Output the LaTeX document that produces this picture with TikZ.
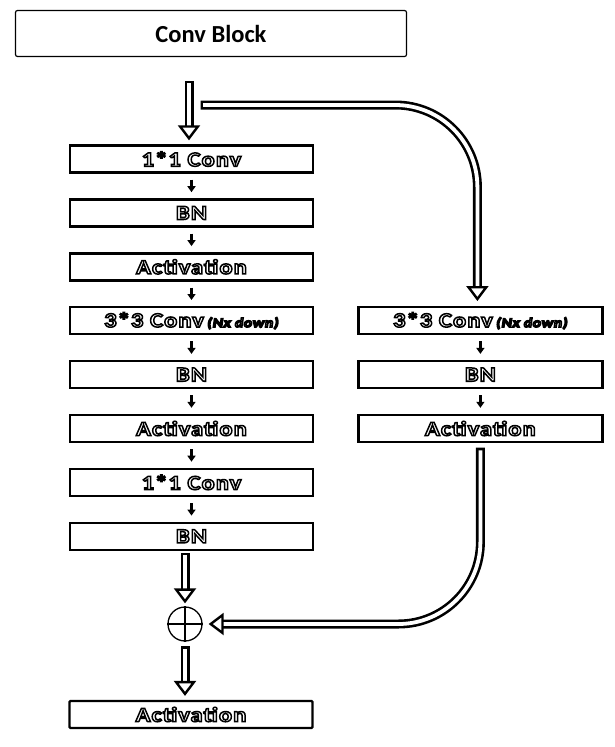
\documentclass[tikz,border=0pt]{standalone}
\usepackage{fontspec}
\setmainfont{Carlito}
\newfontfamily\boxfont[LetterSpace=5,FakeStretch=1.2]{Carlito}
\usetikzlibrary{arrows.meta,positioning,calc}
% outlined text: white fill, black stroke
\newcommand{\olt}[1]{\special{pdf:literal direct 2 Tr 1.5 w 1 g 0 G}#1\special{pdf:literal direct 0 Tr 0 g 0 G}}
\newcommand{\dn}{{\fontsize{13}{13}\selectfont\itshape\olt{(Nx down)}}}

\begin{document}
\begin{tikzpicture}[x=1pt,y=-1pt,node distance=24.5pt,
  blk/.style={draw,line width=2.4pt,minimum width=243pt,minimum height=27pt,
              inner sep=0pt,font=\boxfont\bfseries\fontsize{20.5}{20.5}\selectfont},
  title/.style={draw,line width=1.2pt,rounded corners=2pt,minimum width=391pt,
                minimum height=46pt,font=\bfseries\fontsize{24.5}{24.5}\selectfont},
  sm/.style={line width=2.4pt,-{Triangle[length=6pt,width=8pt]},
             shorten <=6pt,shorten >=6pt},
  hol/.style={double=white,double distance=3.8pt,line width=2.6pt,line cap=rect,
              -{Triangle[length=15pt,width=22pt,fill=white,line width=2.4pt]}}]
\useasboundingbox (0,0) rectangle (614,747);
\node[title] (ttl) at (211,33.5) {Conv Block};
% main branch
\node[blk] (c1) at (191.5,159) {\olt{1*1 Conv}};
\node[blk,below=of c1] (c2) {\olt{BN}};
\node[blk,below=of c2] (c3) {\olt{Activation}};
\node[blk,below=of c3] (c4) {\olt{3*3 Conv}\,\dn};
\node[blk,below=of c4] (c5) {\olt{BN}};
\node[blk,below=of c5] (c6) {\olt{Activation}};
\node[blk,below=of c6] (c7) {\olt{1*1 Conv}};
\node[blk,below=of c7] (c8) {\olt{BN}};
\foreach \x/\y in {c1/c2,c2/c3,c3/c4,c4/c5,c5/c6,c6/c7,c7/c8} \draw[sm](\x)--(\y);
% shortcut branch
\node[blk,right=43pt of c4,minimum width=244pt] (r1) {\olt{3*3 Conv}\,\dn};
\node[blk,below=of r1,minimum width=244pt] (r2) {\olt{BN}};
\node[blk,below=of r2,minimum width=244pt] (r3) {\olt{Activation}};
\foreach \x/\y in {r1/r2,r2/r3} \draw[sm](\x)--(\y);
% add + output
\node[circle,draw,line width=1.3pt,minimum size=34pt,inner sep=0pt] (add) at (185,624) {};
\draw[line width=1.3pt] (add.north)--(add.south) (add.west)--(add.east);
\node[blk,line width=2.2pt,rounded corners=1pt] (out) at (191,714.5) {\olt{Activation}};
\coordinate (in) at (189,85);
\coordinate (skip) at (205,105);
\draw[hol] (in) -- ($(c1.north -| in)+(0,-4)$);
\draw[hol,rounded corners=82pt] (skip) -| ($(r1.north)+(-3,-5)$);
\draw[hol,rounded corners=82pt] ($(r3.south)+(0,9)$) |- ($(add.east)+(6,0)$);
\draw[hol] ($(c8.south -| add)+(0,6)$) -- ($(add.north)+(0,-3)$);
\draw[hol] ($(add.south)+(0,9)$) -- ($(out.north -| add)+(0,-4)$);
\end{tikzpicture}
\end{document}
